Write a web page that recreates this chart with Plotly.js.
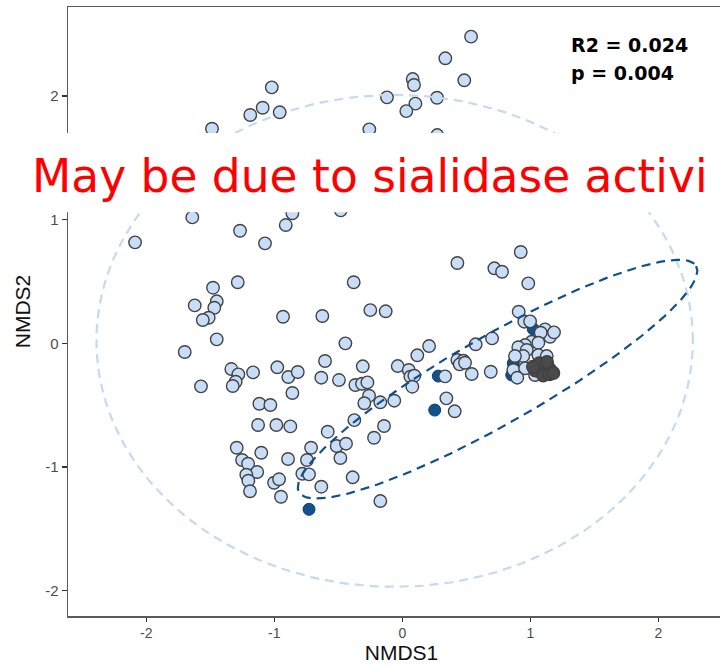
<!DOCTYPE html>
<html>
<head>
<meta charset="utf-8">
<script src="https://cdn.plot.ly/plotly-3.0.1.min.js"></script>
<style>
html,body{margin:0;padding:0;overflow:hidden;background:#fff;}
#chart{width:740px;height:668px;}
</style>
</head>
<body>
<div id="chart"></div>
<script>
// Light blue group (NMDS1, NMDS2)
const lightX = [
 0.537,0.336,0.081,0.091,0.484,-0.120,0.271,0.102,0.031,-0.258,0.273,-1.020,-1.091,-1.188,-0.958,-1.487,
 -1.641,-1.268,-0.911,-0.859,-0.481,-1.073,-2.088,
 -1.479,-1.286,-1.622,-1.450,-1.469,-1.513,-1.559,-0.932,-0.625,-1.450,-1.700,-0.604,-1.336,-1.281,-1.302,-1.325,-1.573,
 -1.166,-0.977,-0.891,-0.817,-0.633,-0.859,-1.117,-1.031,-1.127,-0.984,-0.875,-0.583,-1.294,-1.102,-0.713,-0.893,-0.745,
 -1.252,-1.205,-1.134,-1.219,-1.203,-1.190,-1.002,-0.963,-0.948,-0.781,-0.729,-0.633,
 0.430,-0.380,-0.250,-0.130,-0.445,0.573,0.209,0.117,-0.036,-0.309,0.050,0.430,0.477,0.448,0.490,0.542,-0.495,-0.367,
 -0.315,-0.273,0.063,0.094,0.078,0.334,-0.260,-0.297,-0.172,-0.063,0.344,0.409,-0.375,-0.143,-0.221,-0.513,-0.440,-0.484,
 -0.388,-0.172,
 0.925,0.719,0.779,0.984,0.909,0.953,0.998,1.115,1.154,1.185,1.081,0.701,1.011,1.063,0.959,0.906,0.972,0.945,0.880,
 1.063,1.128,0.867,0.959,0.898,0.691,1.037
];
const lightY = [
 2.481,2.306,2.138,2.090,2.128,1.990,1.987,1.939,1.879,1.731,1.685,2.071,1.906,1.847,1.869,1.736,
 1.019,0.911,0.957,1.052,1.076,0.809,0.817,
 0.450,0.494,0.307,0.340,0.288,0.207,0.189,0.215,0.221,0.032,-0.070,-0.143,-0.208,-0.251,-0.311,-0.345,-0.348,
 -0.235,-0.194,-0.273,-0.232,-0.278,-0.402,-0.489,-0.499,-0.661,-0.661,-0.672,-0.715,-0.845,-0.885,-0.845,-0.936,-0.944,
 -0.944,-0.974,-1.041,-1.063,-1.112,-1.197,-1.128,-1.100,-1.241,-1.055,-1.060,-1.160,
 0.650,0.494,0.269,0.259,0.000,-0.008,-0.022,-0.097,-0.184,-0.186,-0.216,-0.135,-0.141,-0.170,-0.157,-0.248,-0.297,-0.337,
 -0.327,-0.316,-0.270,-0.262,-0.351,-0.267,-0.424,-0.485,-0.477,-0.464,-0.445,-0.550,-0.621,-0.669,-0.764,-0.831,-0.812,-0.928,
 -1.084,-1.276,
 0.739,0.607,0.579,0.485,0.256,0.175,0.178,0.113,0.053,0.089,0.086,0.040,0.013,0.005,-0.014,-0.032,-0.054,-0.103,-0.103,
 -0.095,-0.103,-0.216,-0.202,-0.278,-0.230,-0.256
];
// Dark blue group
const darkX = [-0.729,0.281,0.253,1.023,0.867,0.855];
const darkY = [-1.343,-0.265,-0.540,0.116,-0.162,-0.256];
// Dense overlapping cluster
const clusterX = [1.06,1.10,1.14,1.08,1.12,1.16,1.04,1.10,1.15,1.07,1.13,1.18,1.02];
const clusterY = [-0.19,-0.18,-0.19,-0.23,-0.23,-0.22,-0.22,-0.26,-0.25,-0.16,-0.15,-0.24,-0.19];

// Ellipse parameters (stat_ellipse outlines): center, semi-axis vectors
const ellLight = {cx:-0.06, cy:0.02, ux:2.33, uy:0.0, vx:0.0, vy:1.99};
const ellDark  = {cx:0.744, cy:-0.29, ux:1.551, uy:0.915, vx:0.170, vy:-0.309};

const xTicks = [-2,-1,0,1,2];
const yTicks = [-2,-1,0,1,2];

function ellipsePath(e){
  const xs=[], ys=[];
  for(let i=0;i<=200;i++){
    const t = 2*Math.PI*i/200;
    xs.push(e.cx + Math.cos(t)*e.ux + Math.sin(t)*e.vx);
    ys.push(e.cy + Math.cos(t)*e.uy + Math.sin(t)*e.vy);
  }
  return {xs, ys};
}
const eL = ellipsePath(ellLight), eD = ellipsePath(ellDark);

const traces = [
  {x:darkX, y:darkY, type:'scatter', mode:'markers', hoverinfo:'skip',
   marker:{size:12, color:'#13508e', line:{color:'#0e3f72', width:1}}},
  {x:lightX, y:lightY, type:'scatter', mode:'markers', hoverinfo:'skip',
   marker:{size:12.5, color:'#c8ddf7', line:{color:'#434343', width:1.4}}},
  {x:clusterX, y:clusterY, type:'scatter', mode:'markers', hoverinfo:'skip',
   marker:{size:12.5, color:'#4a4a4a', line:{color:'#404040', width:1.4}}},
  {x:eL.xs, y:eL.ys, type:'scatter', mode:'lines', hoverinfo:'skip',
   line:{color:'#c3daf5', width:2.2, dash:'9px,6px'}},
  {x:eD.xs, y:eD.ys, type:'scatter', mode:'lines', hoverinfo:'skip',
   line:{color:'#11508e', width:2.2, dash:'9px,6px'}}
];

const layout = {
  width:740, height:668,
  margin:{l:68, r:5, t:7, b:52},
  paper_bgcolor:'#ffffff', plot_bgcolor:'#ffffff',
  showlegend:false,
  font:{family:'Liberation Sans, Arial, sans-serif'},
  xaxis:{range:[-2.612,2.599], tickvals:xTicks, ticktext:xTicks.map(String),
    showgrid:false, zeroline:false, showline:true, mirror:true, linecolor:'#5a5a5a', linewidth:1.5,
    ticks:'outside', ticklen:4, tickwidth:1.4, tickcolor:'#333333',
    tickfont:{size:14, color:'#4d4d4d'},
    title:{text:'NMDS1', font:{size:21, color:'#111111'}, standoff:0}, automargin:false},
  yaxis:{range:[-2.206,2.721], tickvals:yTicks, ticktext:yTicks.map(String),
    showgrid:false, zeroline:false, showline:true, mirror:true, linecolor:'#5a5a5a', linewidth:1.5,
    ticks:'outside', ticklen:5, tickwidth:1.4, tickcolor:'#333333',
    tickfont:{size:15, color:'#4d4d4d'},
    title:{text:'NMDS2', font:{size:21, color:'#111111'}, standoff:9}, automargin:false},
  shapes:[
    {type:'rect', xref:'paper', yref:'paper', x0:-0.2, x1:1.2, y0:0.663, y1:0.793,
     fillcolor:'#ffffff', line:{width:0}, layer:'above'}
  ],
  annotations:[
    {xref:'paper', yref:'paper', x:0.751, y:0.9376, xanchor:'left', yanchor:'middle',
     text:'<b>R2 = 0.024</b>', showarrow:false, font:{size:19, color:'#000000', family:'DejaVu Sans, sans-serif'}},
    {xref:'paper', yref:'paper', x:0.751, y:0.8916, xanchor:'left', yanchor:'middle',
     text:'<b>p = 0.004</b>', showarrow:false, font:{size:19, color:'#000000', family:'DejaVu Sans, sans-serif'}},
    {xref:'paper', yref:'paper', x:-0.057, y:0.722, xanchor:'left', yanchor:'middle',
     text:'May be due to sialidase activi', showarrow:false,
     font:{size:45.5, color:'#ff0000', family:'DejaVu Sans, sans-serif'}}
  ]
};

Plotly.newPlot('chart', traces, layout, {displayModeBar:false, staticPlot:true});
</script>
</body>
</html>
